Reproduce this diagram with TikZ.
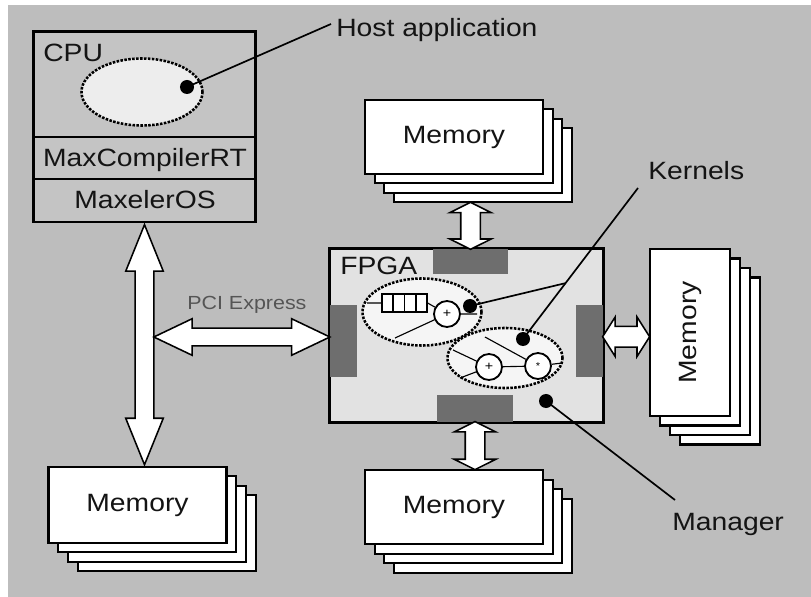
\documentclass[tikz,border=0pt]{standalone}
\usepackage{fontspec}
\setmainfont{Liberation Sans}[FakeStretch=1.13]
\usetikzlibrary{
    shapes.geometric,
    shapes.arrows,
    calc,
    positioning
}
\definecolor{bggray}{RGB}{189,189,189}
\definecolor{cpugray}{RGB}{196,196,196}
\definecolor{fpgagray}{RGB}{226,226,226}
\definecolor{padgray}{RGB}{110,110,110}
\definecolor{inkgray}{RGB}{20,20,20}
\definecolor{pcigray}{RGB}{85,85,85}
\tikzset{
    lbl/.style={font=\fontsize{17.8}{20}\selectfont, text=inkgray},
    memh/.style={draw, line width=1.5pt, fill=white, minimum width=44.5mm, minimum height=18.5mm, lbl},
    memv/.style={draw, line width=1.5pt, fill=white, minimum width=20mm, minimum height=41.75mm, lbl},
    fat/.style={double arrow, draw, fill=white, line width=1.1pt, inner sep=0pt},
    kern/.style={ellipse, draw, densely dotted, line width=1.8pt, fill=white!96!black},
    op/.style={circle, draw, line width=1.3pt, fill=white, minimum size=6.5mm, inner sep=0pt},
    dot/.style={circle, fill=black, minimum size=3.5mm, inner sep=0pt},
    pad/.style={fill=padgray, inner sep=0pt}
}
\begin{document}
\begin{tikzpicture}[x=0.025cm, y=-0.025cm]
\useasboundingbox (0,0) rectangle (811,597);
\fill[white] (0,0) rectangle (811,597);
\fill[bggray] (8,5) rectangle (811,597);

% host side
\node[draw, line width=2.1pt, fill=cpugray, minimum width=55.25mm, minimum height=47.5mm] (cpu) at (144.5,127) {};
\draw[line width=0.8pt] (34,137) -- (255,137);
\draw[line width=0.8pt] (34,179) -- (255,179);
\node[lbl, anchor=base west, inner sep=0] (cpulbl) at (43,62) {CPU};
\node[lbl, anchor=base, inner sep=0] (rt) at (145,167) {MaxCompilerRT};
\node[lbl, anchor=base, inner sep=0] (os) at (145,209) {MaxelerOS};
\node[ellipse, draw, densely dotted, line width=1.8pt, fill=white!93!black, minimum width=30.25mm, minimum height=16.75mm] (app) at (142,92) {};
\node[dot] (dcpu) at (187,87) {};
\node[lbl, anchor=base west, inner sep=0] (host) at (336,37) {Host application};
\coordinate (hostpt) at (331,24);
\draw[line width=1.2pt] (dcpu.center) -- (hostpt);

% memories
\foreach \k in {3,2,1}
    \node[memh] (memT-\k) at (454+\k*9.6, 137+\k*9.3) {};
\node[memh] (memT) at (454,137) {Memory};
\foreach \k in {3,2,1}
    \node[memh, minimum height=19mm] (memL-\k) at (137.5+\k*9.7, 505+\k*9.3) {};
\node[memh, minimum height=19mm] (memL) at (137.5,505) {Memory};
\foreach \k in {3,2,1}
    \node[memh] (memB-\k) at (454+\k*9.6, 507+\k*9.6) {};
\node[memh] (memB) at (454,507) {Memory};
\foreach \k in {3,2,1}
    \node[memv] (memR-\k) at (690+\k*10, 332.5+\k*9.5) {};
\node[memv] (memR) at (690,332.5) {\rotatebox{90}{Memory}};

% fpga
\node[draw, line width=1.5pt, fill=fpgagray, minimum width=68.25mm, minimum height=43.25mm] (fpga) at (466.5,335.5) {};
\node[pad, minimum width=18.75mm, minimum height=6.25mm] (padT) at (470.5,261.5) {};
\node[pad, minimum width=19mm, minimum height=6.75mm] (padB) at (475,408.5) {};
\node[pad, minimum width=6.75mm, minimum height=18mm] (padL) at (343.5,341) {};
\node[pad, minimum width=6.75mm, minimum height=18mm] (padR) at (589.5,341) {};
\draw[line width=1.5pt] (fpga.north west) rectangle (fpga.south east);
\node[lbl, anchor=base west, inner sep=0] (fpgalbl) at (340,275) {FPGA};

% kernels
\node[kern, minimum width=29.75mm, minimum height=16.75mm] (k1) at (422,312) {};
\node[kern, minimum width=28.75mm, minimum height=15mm] (k2) at (505,358) {};
\coordinate (k1in) at (367,303);
\coordinate (k1in2) at (395,338);
\coordinate (k1out) at (477,314);
\coordinate (k2in) at (453,350);
\coordinate (k2in2) at (460,378);
\coordinate (k2in3) at (485,337);
\coordinate (k2out) at (562,363);
\node[draw, line width=0.9pt, fill=white, minimum width=11.25mm, minimum height=4.5mm, inner sep=0pt] (fifo) at (404.5,303) {};
\foreach \i in {1,2,3}
    \draw[line width=0.9pt] ($(fifo.north west)!\i/4!(fifo.north east)$) -- ($(fifo.south west)!\i/4!(fifo.south east)$);
\node[op, font=\small] (add1) at (447,314) {+};
\node[op, font=\small] (add2) at (489,367) {+};
\node[op, font=\scriptsize] (mul) at (538,366) {*};
\draw[line width=0.8pt]
    (k1in) -- (fifo.west)
    (fifo.east) -- (add1)
    (add1) -- (k1out)
    (add1) -- (k1in2)
    (k2in) -- (add2)
    (k2in2) -- (add2)
    (add2) -- (mul)
    (k2in3) -- (mul)
    (mul) -- (k2out);

% labels on the right
\node[lbl, anchor=base west, inner sep=0] (kernlbl) at (648,180) {Kernels};
\node[lbl, anchor=base west, inner sep=0] (manlbl) at (672,530) {Manager};
\coordinate (kernpt) at (638,188);
\coordinate (manpt) at (675,500);
\node[dot] (dk1) at (470,306) {};
\node[dot] (dk2) at (523,339) {};
\node[dot] (dman) at (546,401) {};
\draw[line width=1.2pt] (dk2.center) -- (kernpt);
\draw[line width=1.2pt] (dk1.center) -- ($(dk2)!0.37!(kernpt)$);
\draw[line width=1.2pt] (dman.center) -- (manpt);

% links
\node[fat, rotate=90, minimum height=60mm, inner ysep=2.125mm, double arrow head extend=2.375mm, double arrow tip angle=44] (cpuarr) at ($(cpu.south)!0.5!(cpu.south |- memL.north)$) {};
\coordinate (pci) at (154,337);
\node[fat, minimum height=44mm, inner ysep=2mm, double arrow head extend=2.375mm, double arrow tip angle=51] (pciarr) at ($(pci)!0.5!(padL.west |- pci)$) {};
\node[lbl, font=\fontsize{13.5}{16}\selectfont, text=pcigray, anchor=base west, inner sep=0] (pcilbl) at (187,310) {PCI Express};
\node[fat, rotate=90, minimum height=11.75mm, inner ysep=2.25mm, double arrow head extend=2.75mm, double arrow tip angle=127] (armT) at ($(padT.north)!0.5!(padT.north |- memT-3.south)$) {};
\node[fat, rotate=90, minimum height=12mm, inner ysep=2.25mm, double arrow head extend=2.75mm, double arrow tip angle=127] (armB) at ($(padB.south)!0.5!(padB.south |- memB.north)$) {};
\node[fat, minimum height=11.75mm, inner ysep=2.375mm, double arrow head extend=2.375mm, double arrow tip angle=115] (armR) at ($(padR.east)!0.5!(memR.west)$) {};
\end{tikzpicture}
\end{document}
